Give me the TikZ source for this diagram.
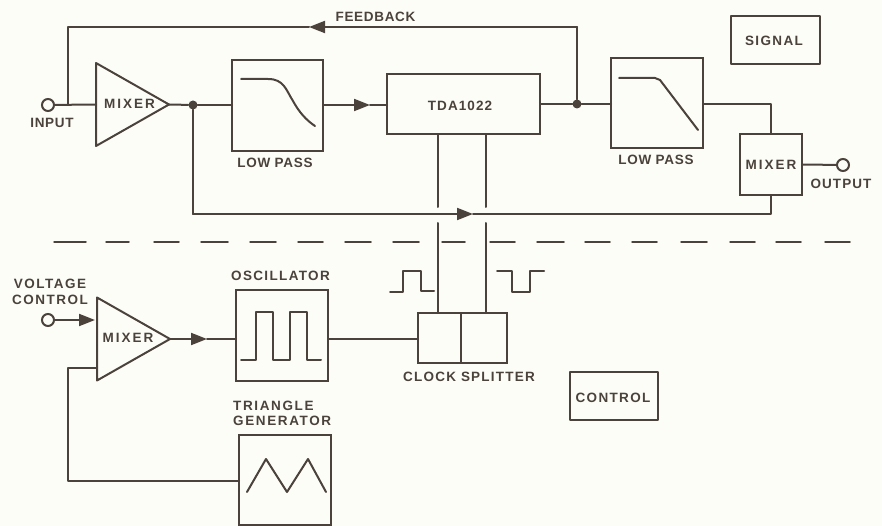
\documentclass[tikz,border=0pt]{standalone}
\usepackage{fontspec}
\setmainfont{Liberation Sans}[LetterSpace=5]
\usetikzlibrary{shapes.geometric,arrows.meta}
\definecolor{ink}{HTML}{4A423B}
\definecolor{paper}{HTML}{FDFDF8}
\tikzset{
  x=1pt,y=-1pt,
  wire/.style={draw=ink,line width=2pt,line cap=round,line join=round},
  thin wire/.style={draw=ink,line width=1.5pt,line cap=round,line join=round},
  arrowed/.style={wire,-{Triangle[length=16pt,width=12pt]}},
  block/.style={rectangle,draw=ink,line width=2pt,inner sep=0pt,outer sep=0pt,anchor=north west},
  amp/.style={isosceles triangle,isosceles triangle stretches,draw=ink,line width=2pt,line join=round,inner sep=0pt,outer sep=0pt,anchor=apex,shape border rotate=0,minimum width=83pt,minimum height=73pt},
  lbl/.style={text=ink,font=\fontsize{13.5}{15.5}\selectfont\bfseries\addfontfeature{LetterSpace=#1},inner sep=0pt,align=center},
  lbl/.default=5,
  port/.style={circle,draw=ink,line width=2pt,fill=paper,minimum size=12pt,inner sep=0pt},
  dot/.style={circle,fill=ink,minimum size=9pt,inner sep=0pt},
}
\begin{document}
\begin{tikzpicture}
\useasboundingbox (0,0) rectangle (882,526);
\fill[paper] (0,0) rectangle (882,526);

% blocks
\node[amp] (mixa) at (169,104.5) {};
\node[block,minimum width=91pt,minimum height=91pt] (lpa) at (232,60) {};
\node[block,minimum width=153pt,minimum height=60pt] (tda) at (387,74) {};
\node[block,minimum width=92pt,minimum height=90pt] (lpb) at (611,58) {};
\node[block,minimum width=62pt,minimum height=61pt] (mixb) at (740,134) {};
\node[block,thin wire,minimum width=89pt,minimum height=48pt] (sig) at (731,16) {};
\node[block,thin wire,minimum width=88pt,minimum height=48pt] (ctl) at (570,372) {};
\node[amp] (mixc) at (170,339) {};
\node[block,minimum width=92pt,minimum height=91pt] (osc) at (236,290) {};
\node[block,minimum width=92pt,minimum height=90pt] (tri) at (239,435) {};
\node[block,minimum width=43pt,minimum height=50pt] (spa) at (418,313) {};
\node[block,minimum width=46pt,minimum height=50pt] (spb) at (461,313) {};

% ports and junctions
\node[port] (in) at (48,105) {};
\node[port] (out) at (843,165) {};
\node[port] (vc) at (48,320) {};
\node[dot] (ja) at (193,105) {};
\node[dot] (jb) at (577,104) {};
\coordinate (jc) at (68,105);

% signal path
\draw[wire] (in) -- (mixa.lower side);
\draw[wire] (mixa.apex) -- (ja);
\draw[wire] (ja) -- (lpa.west |- ja);
\coordinate (ta) at (370,105);
\draw[arrowed] (lpa.east |- ta) -- (ta);
\draw[wire] (ta) -- (tda.west |- ta);
\draw[wire] (tda.east |- jb) -- (jb);
\draw[wire] (jb) -- (lpb.west |- jb);
\coordinate (lpbr) at (lpb.east |- jb);
\draw[wire] (lpbr) -| (mixb.north);
\draw[wire] (mixb.east) -- (out);

% feedback
\coordinate (fa) at (577,27);
\coordinate (fb) at (309,27);
\coordinate (fc) at (68,27);
\draw[wire] (jb) -- (fa);
\draw[arrowed] (fa) -- (fb);
\draw[wire] (fb) -- (fc) -- (jc);

% dry path
\coordinate (db) at (473,214);
\coordinate (dc) at (193,214);
\draw[wire] (mixb.south) |- (db);
\draw[wire] (ja) -- (dc);
\draw[arrowed] (dc) -- (db);

% clock lines
\coordinate (ka) at (438,134);
\coordinate (kb) at (438,207);
\coordinate (kc) at (438,223);
\coordinate (kd) at (438,313);
\coordinate (ke) at (486,134);
\coordinate (kf) at (486,207);
\coordinate (kg) at (486,223);
\coordinate (kh) at (486,313);
\draw[wire] (ka) -- (kb);
\draw[wire] (kc) -- (kd);
\draw[wire] (ke) -- (kf);
\draw[wire] (kg) -- (kh);

% control path
\coordinate (va) at (95,320);
\draw[arrowed] (vc) -- (va);
\coordinate (ma) at (207,339);
\draw[arrowed] (mixc.apex) -- (ma);
\draw[wire] (ma) -- (osc.west |- ma);
\draw[wire] (osc.east |- ma) -- (spa.west |- ma);
\coordinate (ga) at (239,481);
\coordinate (gb) at (68,481);
\coordinate (gc) at (68,368);
\coordinate (gd) at (97,368);
\draw[wire] (ga) -- (gb) -- (gc) -- (gd);

% separator
\foreach \a/\b in {54/86,106/129,154/179,201/228,250/276,298/323,345/371,393/419,442/465,490/515,537/564,585/610,632/657,681/707,730/755,776/801,825/850}
  \draw[thin wire] (\a,242) -- (\b,242);

% curves and waveforms
\draw[wire] (241,79) -- (268,79) .. controls (284,79) and (286,90) .. (293,101) .. controls (299,112) and (306,120) .. (315,126);
\draw[wire] (619,78) -- (655,78) -- (660,80) -- (698,130);
\draw[wire] (241,360) -- (256,360) -- (256,312) -- (273,312) -- (273,360) -- (290,360) -- (290,312) -- (307,312) -- (307,360) -- (321,360);
\draw[wire] (247,492) -- (266,459) -- (287,492) -- (308,459) -- (326,492);
\draw[wire] (390,292) -- (403,292) -- (403,271) -- (421,271) -- (421,291) -- (434,291);
\draw[wire] (497,271) -- (512,271) -- (512,292) -- (530,292) -- (530,271) -- (544,271);

% labels
\node[lbl] (tfb) at (375.5,17) {FEEDBACK};
\node[lbl] (tin) at (52,123) {INPUT};
\node[lbl=15] (tma) at (129.5,104) {MIXER};
\node[lbl] (tlpa) at (275,163) {LOW PASS};
\node[lbl=8] (ttda) at (460,106) {TDA1022};
\node[lbl] (tlpb) at (656,160) {LOW PASS};
\node[lbl=15] (tmb) at (771,165) {MIXER};
\node[lbl=8] (tout) at (841,184) {OUTPUT};
\node[lbl=10] (tsig) at (774,41) {SIGNAL};
\node[lbl=10] (tctl) at (613,398) {CONTROL};
\node[lbl=11] (tvc) at (50,292) {VOLTAGE\\CONTROL};
\node[lbl=15] (tmc) at (128,338) {MIXER};
\node[lbl=10] (tosc) at (280.5,276) {OSCILLATOR};
\node[lbl=12,anchor=west] (ttri) at (233,406) {TRIANGLE};
\node[lbl=12,anchor=west] (tgen) at (233,421) {GENERATOR};
\node[lbl=9] (tclk) at (469,377) {CLOCK SPLITTER};
\end{tikzpicture}
\end{document}
